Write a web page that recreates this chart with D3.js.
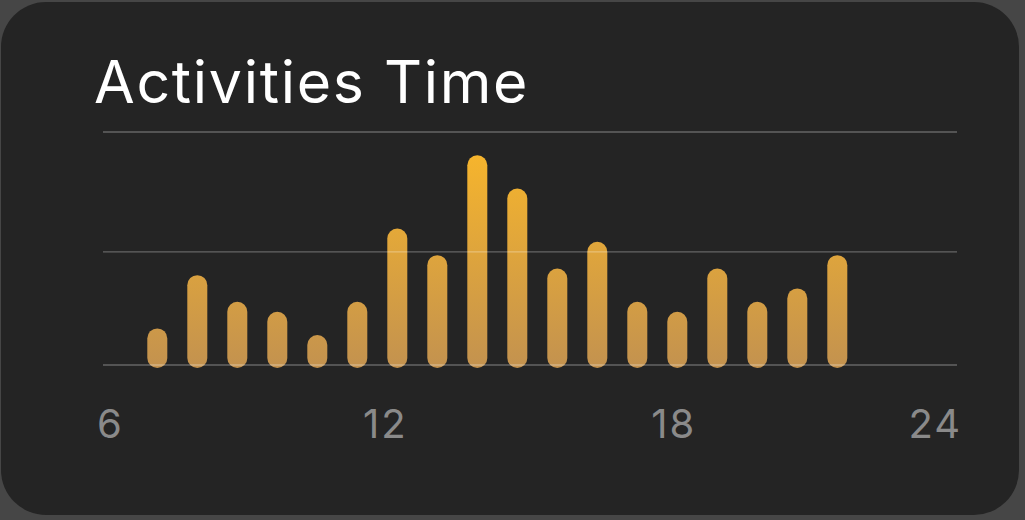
<!DOCTYPE html>
<html>
<head>
<meta charset="utf-8">
<script src="https://cdn.jsdelivr.net/npm/d3@7"></script>
<style>
  html, body { margin: 0; padding: 0; background: #464646; }
  svg { display: block; }
</style>
</head>
<body>
<div id="chart"></div>
<script>
// data
const slots = ['7', '8', '9', '10', '11', '12', '13', '14', '15', '16', '17', '18', '19', '20', '21', '22', '23', '24'];
const minutes = [11, 27, 19, 16, 9, 19, 41, 33, 63, 53, 29, 37, 19, 16, 29, 19, 23, 33];
const gridValues = [0, 34, 70];
const hourTicks = [6, 12, 18, 24];

const width = 1025;
const height = 520;
const plot = { left: 103, right: 957, top: 132, bottom: 365 };

const svg = d3.select('#chart').append('svg')
  .attr('width', width)
  .attr('height', height);

// card
svg.append('rect')
  .attr('x', 1)
  .attr('y', 2)
  .attr('width', 1018)
  .attr('height', 513)
  .attr('rx', 45)
  .attr('fill', '#242424');

svg.append('text')
  .attr('x', 94)
  .attr('y', 102.5)
  .attr('fill', '#ffffff')
  .attr('font-family', 'Inter, "Noto Sans", sans-serif')
  .attr('font-size', 59)
  .attr('letter-spacing', 1.7)
  .text('Activities Time');

const y = d3.scaleLinear()
  .domain([0, 70])
  .range([plot.bottom, plot.top]);

const x = d3.scaleBand()
  .domain(slots)
  .range([137.3, 857.3])
  .paddingInner(0.5)
  .paddingOuter(0.25);

const hourScale = d3.scaleLinear()
  .domain([6, 24])
  .range([97, 962]);

const defs = svg.append('defs');
const grad = defs.append('linearGradient')
  .attr('id', 'barGrad')
  .attr('gradientUnits', 'userSpaceOnUse')
  .attr('x1', 0).attr('x2', 0)
  .attr('y1', y(70)).attr('y2', y(0) + 3);
grad.append('stop').attr('offset', '0%').attr('stop-color', '#fbb829');
grad.append('stop').attr('offset', '100%').attr('stop-color', '#c3924f');

// bars (rounded both ends, a little past the baseline)
svg.append('g')
  .selectAll('rect')
  .data(minutes)
  .join('rect')
  .attr('x', (d, i) => x(slots[i]))
  .attr('y', (d) => y(d))
  .attr('width', x.bandwidth())
  .attr('height', (d) => y(0) - y(d) + 3)
  .attr('rx', x.bandwidth() / 2)
  .attr('ry', x.bandwidth() / 2)
  .attr('fill', 'url(#barGrad)');

// gridlines on top of bars
svg.append('g')
  .selectAll('line')
  .data(gridValues)
  .join('line')
  .attr('x1', plot.left)
  .attr('x2', plot.right)
  .attr('y1', (d) => y(d))
  .attr('y2', (d) => y(d))
  .attr('stroke', '#ffffff')
  .attr('stroke-opacity', 0.3)
  .attr('stroke-width', 1.4);

// hour labels
svg.append('g')
  .selectAll('text')
  .data(hourTicks)
  .join('text')
  .attr('x', (d) => hourScale(d))
  .attr('y', 437.5)
  .attr('text-anchor', (d, i) => (i === 0 ? 'start' : i === hourTicks.length - 1 ? 'end' : 'middle'))
  .attr('fill', '#8a8a8a')
  .attr('font-family', 'Inter, "Noto Sans", sans-serif')
  .attr('font-size', 40)
  .attr('letter-spacing', 2)
  .text((d) => d);
</script>
</body>
</html>
